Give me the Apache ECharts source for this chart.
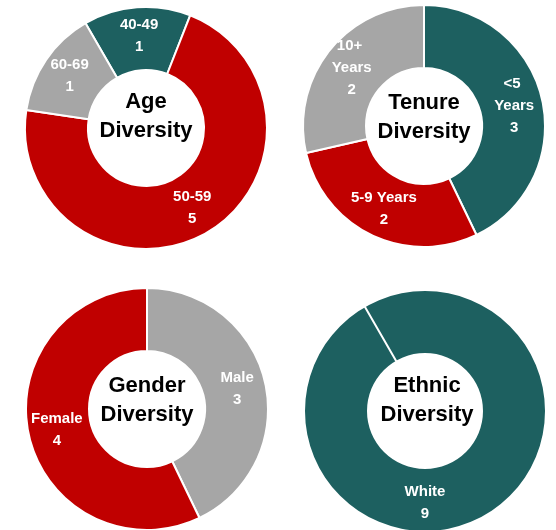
<!DOCTYPE html>
<html>
<head>
<meta charset="utf-8">
<script src="https://cdn.jsdelivr.net/npm/echarts@6/dist/echarts.min.js"></script>
<style>
  html, body { margin: 0; padding: 0; background: #ffffff; }
  #chart { width: 556px; height: 530px; }
</style>
</head>
<body>
<div id="chart"></div>
<script>
// ---- Data ----
var ageCategories = ['40-49', '50-59', '60-69'];
var ageValues = [1, 5, 1];

var tenureCategories = ['<5 Years', '5-9 Years', '10+ Years'];
var tenureValues = [3, 2, 2];

var genderCategories = ['Male', 'Female'];
var genderValues = [3, 4];

var ethnicCategories = ['White'];
var ethnicValues = [9];

var chartTitles = ['Age\nDiversity', 'Tenure\nDiversity', 'Gender\nDiversity', 'Ethnic\nDiversity'];

// ---- Styles ----
var TEAL = '#1D6060', RED = '#C00000', GRAY = '#A6A6A6';
var FONT = '"Liberation Sans", Arial, sans-serif';

function build(cats, vals, colors, widths) {
  return cats.map(function (c, i) {
    var d = { name: c, value: vals[i], itemStyle: { color: colors[i] } };
    if (widths && widths[i]) d.label = { width: widths[i], overflow: 'break' };
    return d;
  });
}

var labelStyle = {
  show: true,
  position: 'inside',
  formatter: '{b}\n{c}',
  color: '#ffffff',
  fontFamily: FONT,
  fontWeight: 'bold',
  fontSize: 15,
  lineHeight: 22,
  align: 'center'
};

function pie(center, startAngle, data, outer) {
  return {
    type: 'pie',
    center: center,
    radius: [58, outer || 121],
    startAngle: startAngle,
    clockwise: true,
    avoidLabelOverlap: false,
    silent: true,
    label: labelStyle,
    labelLine: { show: false },
    itemStyle: { borderColor: '#ffffff', borderWidth: 2 },
    emphasis: { disabled: true },
    data: data
  };
}

var ethnicTotal = ethnicValues.reduce(function (a, b) { return a + b; }, 0);

var centers = [[146, 128], [424, 126], [147, 409], [425, 411]];
var textCenters = [[146, 116], [424, 117], [147, 400], [427, 400]];

var option = {
  animation: false,
  backgroundColor: '#ffffff',
  series: [
    pie(centers[0], 120, build(ageCategories, ageValues, [TEAL, RED, GRAY])),
    pie(centers[1], 90, build(tenureCategories, tenureValues, [TEAL, RED, GRAY], [50, 0, 50])),
    pie(centers[2], 90, build(genderCategories, genderValues, [GRAY, RED])),
    (function () {
      var s = pie(centers[3], 90, build(ethnicCategories, ethnicValues, [TEAL]), 120);
      s.itemStyle = { borderWidth: 0 };
      return s;
    })(),
    // separator line of the ethnic ring (slice start edge)
    {
      type: 'pie',
      center: centers[3],
      radius: [58, 120],
      startAngle: 120,
      clockwise: true,
      silent: true,
      z: 5,
      label: { show: false },
      labelLine: { show: false },
      emphasis: { disabled: true },
      data: [
        { name: '', value: 0, itemStyle: { color: 'rgba(0,0,0,0)', borderColor: '#ffffff', borderWidth: 2 } },
        { name: ' ', value: ethnicTotal, itemStyle: { color: 'rgba(0,0,0,0)', borderWidth: 0 } }
      ]
    }
  ],
  graphic: chartTitles.map(function (t, i) {
    return {
      type: 'text',
      x: textCenters[i][0],
      y: textCenters[i][1],
      z: 10,
      style: {
        text: t,
        fill: '#000000',
        font: 'bold 22px ' + FONT,
        lineHeight: 29,
        align: 'center',
        verticalAlign: 'middle'
      }
    };
  })
};

var chart = echarts.init(document.getElementById('chart'), null, { renderer: 'canvas' });
chart.setOption(option);
</script>
</body>
</html>
